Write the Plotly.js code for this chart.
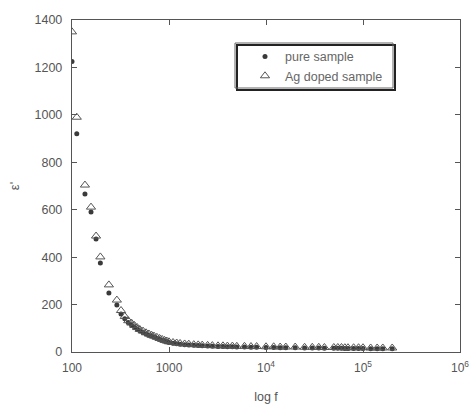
<!DOCTYPE html>
<html>
<head>
<meta charset="utf-8">
<script src="https://cdn.plot.ly/plotly-3.0.1.min.js"></script>
<style>html,body{margin:0;padding:0;background:#fff;}#chart{width:469px;height:409px;}</style>
</head>
<body>
<div id="chart"></div>
<script>
// Frequencies (Hz)
const freq = [100, 112, 136, 157, 177, 196, 240, 290,
  320, 350, 380, 410, 440, 470, 500, 540, 580, 620, 660, 700, 750, 800, 850, 900, 950, 1000,
  1100, 1200, 1300, 1450, 1600, 1800, 2000, 2200, 2500, 2800, 3200, 3600, 4000, 4500, 5000,
  6000, 7000, 8000, 10000, 12000, 14000, 16000, 20000, 25000, 30000, 35000, 40000, 50000,
  55000, 60000, 65000, 70000, 80000, 90000, 100000, 120000, 140000, 160000, 200000];
// Ag doped sample (triangles)
const agDoped = [1350, 990, 704, 611, 489, 401, 283, 219,
  175, 150, 132, 122, 112, 103, 95, 88, 81, 76, 71, 67, 62, 57, 53, 49, 46, 43,
  40, 38, 36, 34, 33, 31, 30, 29, 28, 27, 26, 26, 25, 25, 24,
  24, 23, 23, 22, 22, 21, 21, 21, 20, 20, 20, 19, 19,
  19, 19, 18, 18, 18, 18, 18, 17, 17, 17, 17];
// Pure sample (dots)
const pure = [1225, 920, 666, 590, 477, 375, 249, 198,
  160, 140, 124, 114, 105, 97, 90, 82, 76, 71, 67, 63, 58, 54, 50, 46, 43, 40,
  37, 35, 33, 31, 30, 28, 27, 26, 25, 24, 23, 23, 22, 22, 21,
  21, 20, 20, 19, 19, 18, 18, 18, 17, 17, 17, 16, 16,
  16, 16, 15, 15, 15, 15, 15, 14, 14, 14, 14];
const xTickVals = [100, 1000, 10000, 100000, 1000000];
const xTickText = ['100', '1000', '10<sup>4</sup>', '10<sup>5</sup>', '10<sup>6</sup>'];
const seriesNames = ['pure sample', 'Ag doped sample'];

const fam = 'Liberation Sans, Arial, sans-serif';
const font = {family: fam, size: 12, color: '#555'};

const traces = [
  {x: freq, y: pure, name: seriesNames[0], mode: 'markers', type: 'scatter',
   marker: {symbol: 'circle', size: 5, color: '#3a3a3a'}},
  {x: freq, y: agDoped, name: seriesNames[1], mode: 'markers', type: 'scatter',
   marker: {symbol: 'triangle-up-open', size: 8, color: '#555', line: {width: 1, color: '#555'}}}
];

const layout = {
  width: 469, height: 409,
  margin: {l: 72, r: 9, t: 20, b: 57},
  paper_bgcolor: '#fff', plot_bgcolor: '#fff',
  font: font,
  showlegend: true,
  legend: {x: (245 - 72) / 388, y: 0.934, xanchor: 'left', yanchor: 'top',
    bgcolor: 'rgba(0,0,0,0)', borderwidth: 0, font: {family: fam, size: 12.5, color: '#666'},
    tracegroupgap: 0},
  xaxis: {type: 'log', range: [2, 6], tickvals: xTickVals, ticktext: xTickText,
    ticks: 'inside', ticklen: 5, tickcolor: '#555', showline: true, linecolor: '#555', linewidth: 1.2,
    mirror: 'ticks', showgrid: false, zeroline: false, ticklabelstandoff: 4,
    ticklabeloverflow: 'allow', automargin: false,
    tickfont: {family: fam, size: 12, color: '#555'},
    title: {text: 'log f', standoff: 18, font: {family: fam, size: 12.5, color: '#555'}}},
  yaxis: {range: [0, 1400], dtick: 200, tick0: 0,
    ticks: 'inside', ticklen: 5, tickcolor: '#555', showline: true, linecolor: '#555', linewidth: 1.2,
    mirror: 'ticks', showgrid: false, zeroline: false, ticklabelstandoff: 6,
    tickfont: {family: fam, size: 12.5, color: '#555'},
    title: {text: "ε'", standoff: 12, font: {family: fam, size: 13, color: '#555'}}},
  shapes: [
    {type: 'rect', xref: 'paper', yref: 'paper', layer: 'above',
     x0: (237 - 72) / 388, x1: (395 - 72) / 388, y0: (352 - 90) / 332, y1: (352 - 45) / 332,
     line: {color: '#222', width: 2}, fillcolor: 'rgba(0,0,0,0)'},
    {type: 'rect', xref: 'paper', yref: 'paper', layer: 'above',
     x0: (235 - 72) / 388, x1: (393 - 72) / 388, y0: (352 - 88) / 332, y1: (352 - 43) / 332,
     line: {color: '#666', width: 1}, fillcolor: 'rgba(0,0,0,0)'}
  ]
};

Plotly.newPlot('chart', traces, layout, {displayModeBar: false, staticPlot: true});
</script>
</body>
</html>
